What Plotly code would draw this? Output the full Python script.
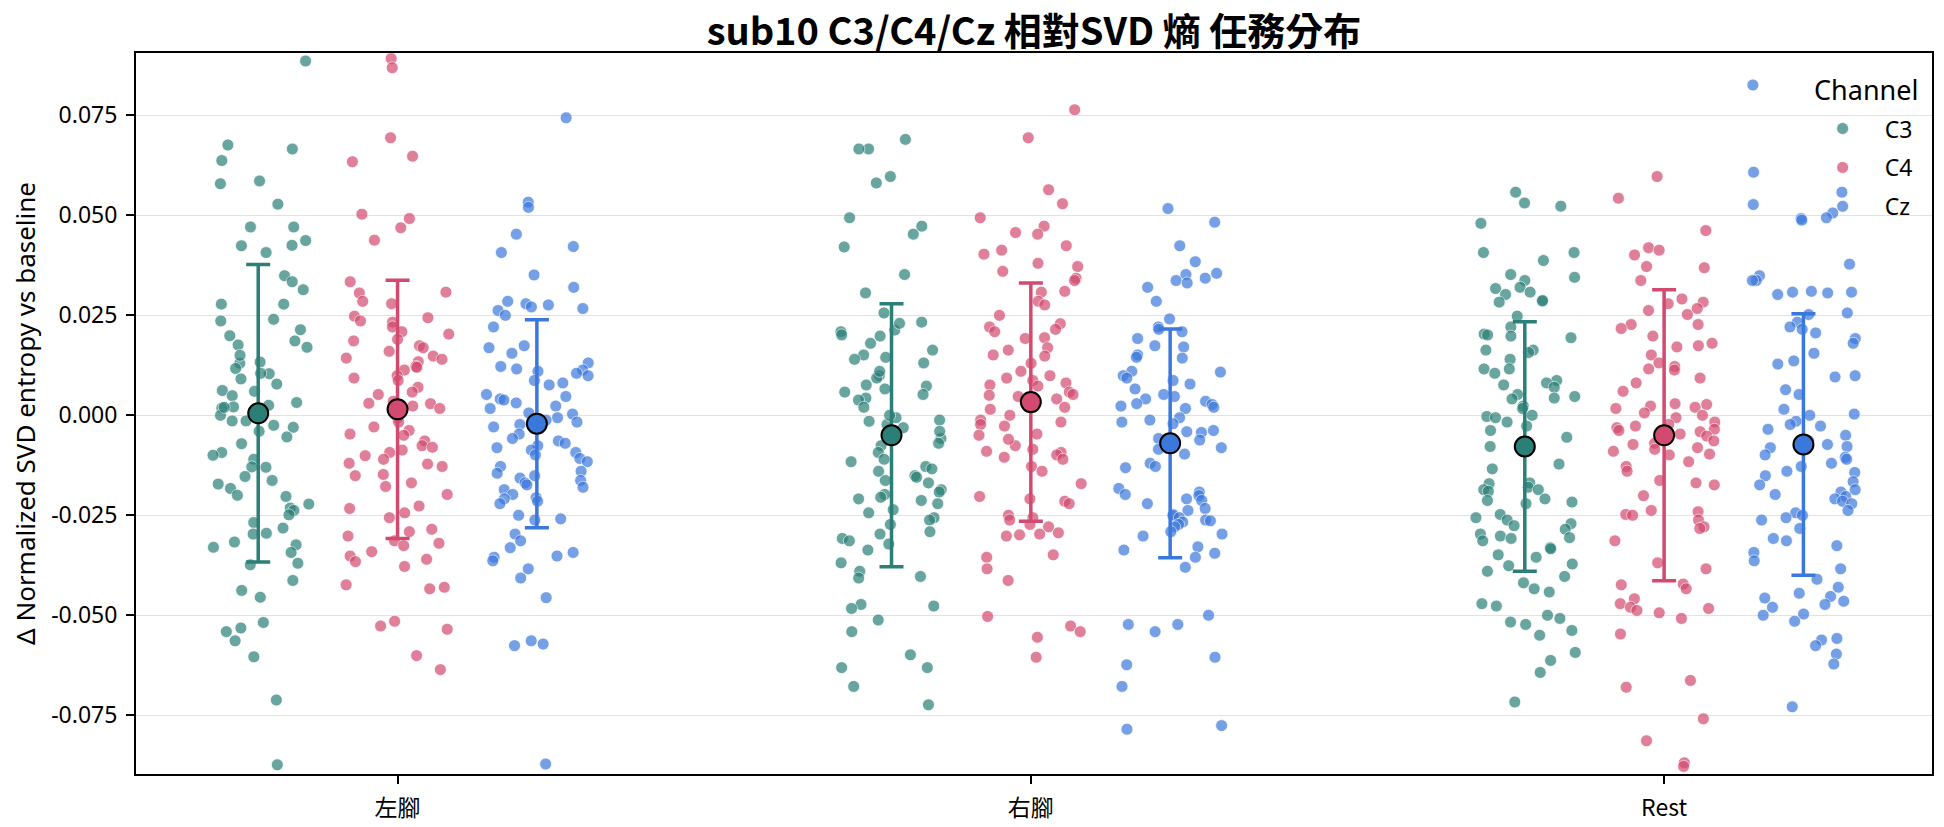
import numpy as np
import plotly.graph_objects as go

categories = ["左腳", "右腳", "Rest"]
channels = ["C3", "C4", "Cz"]

# Δ Normalized SVD entropy values
left_C3 = [0.0886, 0.0676, 0.0666, 0.0637, 0.0586, 0.0579, 0.0528, 0.0471, 0.0471, 0.0437, 0.0425, 0.0424,
           0.0407, 0.0349, 0.0334, 0.0314, 0.0278, 0.0278, 0.0236, 0.0214, 0.0199, 0.0186, 0.0176, 0.0170,
           0.0133, 0.0130, 0.0117, 0.0104, 0.0091, 0.0078, 0.0062, 0.0049, 0.0032, 0.0025, 0.0021, 0.0018,
           0.0000, -0.0014, -0.0014, -0.0025, -0.0030, -0.0054, -0.0071, -0.0093, -0.0110, -0.0129, -0.0130,
           -0.0153, -0.0163, -0.0172, -0.0183, -0.0203, -0.0222, -0.0232, -0.0238, -0.0249, -0.0268, -0.0282,
           -0.0295, -0.0297, -0.0317, -0.0324, -0.0330, -0.0343, -0.0370, -0.0374, -0.0413, -0.0438, -0.0455,
           -0.0518, -0.0541, -0.0532, -0.0564, -0.0604, -0.0712, -0.0874, 0.0105, 0.0060, -0.0040, 0.0150,
           0.0020, -0.0200, 0.0240, -0.0100]
left_C4 = [0.0892, 0.0869, 0.0694, 0.0648, 0.0634, 0.0503, 0.0492, 0.0469, 0.0438, 0.0334, 0.0306, 0.0308,
           0.0279, 0.0285, 0.0248, 0.0244, 0.0236, 0.0233, 0.0221, 0.0209, 0.0203, 0.0190, 0.0186, 0.0174,
           0.0169, 0.0148, 0.0143, 0.0140, 0.0134, 0.0122, 0.0120, 0.0113, 0.0099, 0.0093, 0.0087, 0.0070,
           0.0058, 0.0052, 0.0035, 0.0029, 0.0023, 0.0017, -0.0006, -0.0017, -0.0029, -0.0038, -0.0047,
           -0.0050, -0.0064, -0.0076, -0.0087, -0.0093, -0.0101, -0.0110, -0.0120, -0.0122, -0.0128, -0.0148,
           -0.0151, -0.0169, -0.0178, -0.0198, -0.0227, -0.0233, -0.0244, -0.0256, -0.0285, -0.0291, -0.0302,
           -0.0314, -0.0320, -0.0326, -0.0341, -0.0352, -0.0360, -0.0366, -0.0378, -0.0430, -0.0434, -0.0424,
           -0.0515, -0.0535, -0.0527, -0.0601, -0.0636, 0.0160, 0.0030, -0.0080]
left_Cz = [0.0744, 0.0533, 0.0520, 0.0453, 0.0422, 0.0407, 0.0351, 0.0320, 0.0285, 0.0279, 0.0276, 0.0271,
           0.0267, 0.0262, 0.0250, 0.0221, 0.0174, 0.0169, 0.0155, 0.0131, 0.0122, 0.0116, 0.0113, 0.0110,
           0.0105, 0.0099, 0.0087, 0.0081, 0.0076, 0.0052, 0.0047, 0.0041, 0.0038, 0.0031, 0.0023, 0.0017,
           0.0006, 0.0003, -0.0006, -0.0012, -0.0017, -0.0023, -0.0029, -0.0047, -0.0058, -0.0064, -0.0070,
           -0.0076, -0.0081, -0.0087, -0.0093, -0.0099, -0.0108, -0.0116, -0.0128, -0.0140, -0.0145, -0.0151,
           -0.0157, -0.0163, -0.0169, -0.0174, -0.0180, -0.0186, -0.0198, -0.0206, -0.0209, -0.0215, -0.0221,
           -0.0250, -0.0259, -0.0262, -0.0297, -0.0314, -0.0331, -0.0343, -0.0352, -0.0355, -0.0364, -0.0384,
           -0.0407, -0.0456, -0.0564, -0.0576, -0.0572, -0.0872]
right_C3 = [0.0690, 0.0666, 0.0666, 0.0597, 0.0581, 0.0494, 0.0453, 0.0473, 0.0421, 0.0352, 0.0306, 0.0256,
            0.0233, 0.0213, 0.0209, 0.0201, 0.0198, 0.0163, 0.0151, 0.0145, 0.0140, 0.0131, 0.0099, 0.0093,
            0.0076, 0.0073, 0.0066, 0.0058, 0.0052, 0.0043, 0.0038, 0.0020, -0.0006, -0.0012, -0.0015,
            -0.0023, -0.0031, -0.0058, -0.0070, -0.0076, -0.0093, -0.0110, -0.0116, -0.0128, -0.0134, -0.0140,
            -0.0151, -0.0155, -0.0163, -0.0169, -0.0186, -0.0192, -0.0198, -0.0209, -0.0213, -0.0221, -0.0236,
            -0.0244, -0.0256, -0.0262, -0.0273, -0.0291, -0.0297, -0.0308, -0.0314, -0.0322, -0.0337, -0.0369,
            -0.0390, -0.0403, -0.0407, -0.0473, -0.0477, -0.0483, -0.0512, -0.0541, -0.0599, -0.0631, -0.0631,
            -0.0678, -0.0724, 0.0230, 0.0110, 0.0000, -0.0205, 0.0180, -0.0040]
right_C4 = [0.0764, 0.0694, 0.0564, 0.0529, 0.0494, 0.0473, 0.0457, 0.0453, 0.0424, 0.0413, 0.0403, 0.0380,
            0.0372, 0.0360, 0.0343, 0.0337, 0.0310, 0.0308, 0.0285, 0.0276, 0.0229, 0.0221, 0.0215, 0.0209,
            0.0194, 0.0192, 0.0169, 0.0163, 0.0151, 0.0148, 0.0110, 0.0099, 0.0093, 0.0087, 0.0081, 0.0076,
            0.0073, 0.0058, 0.0052, 0.0050, 0.0047, 0.0041, 0.0029, 0.0020, 0.0015, 0.0000, -0.0012, -0.0017,
            -0.0023, -0.0027, -0.0047, -0.0050, -0.0076, -0.0085, -0.0090, -0.0093, -0.0099, -0.0105, -0.0110,
            -0.0128, -0.0140, -0.0171, -0.0203, -0.0209, -0.0215, -0.0221, -0.0250, -0.0256, -0.0262, -0.0273,
            -0.0279, -0.0294, -0.0297, -0.0299, -0.0302, -0.0349, -0.0355, -0.0384, -0.0413, -0.0503, -0.0527,
            -0.0541, -0.0555, -0.0605, 0.0130, 0.0250, -0.0060]
right_Cz = [0.0517, 0.0483, 0.0424, 0.0384, 0.0355, 0.0352, 0.0343, 0.0337, 0.0331, 0.0320, 0.0285, 0.0241,
            0.0221, 0.0215, 0.0209, 0.0192, 0.0174, 0.0171, 0.0151, 0.0145, 0.0143, 0.0110, 0.0108, 0.0099,
            0.0093, 0.0087, 0.0078, 0.0066, 0.0052, 0.0047, 0.0041, 0.0035, 0.0029, 0.0027, 0.0023, 0.0020,
            0.0017, -0.0006, -0.0012, -0.0017, -0.0021, -0.0038, -0.0041, -0.0043, -0.0058, -0.0062, -0.0081,
            -0.0085, -0.0097, -0.0120, -0.0128, -0.0131, -0.0183, -0.0192, -0.0198, -0.0201, -0.0209, -0.0213,
            -0.0221, -0.0233, -0.0238, -0.0248, -0.0250, -0.0256, -0.0262, -0.0264, -0.0267, -0.0273, -0.0279,
            -0.0291, -0.0297, -0.0302, -0.0329, -0.0337, -0.0345, -0.0355, -0.0380, -0.0500, -0.0523, -0.0523,
            -0.0541, -0.0605, -0.0624, -0.0678, -0.0776, -0.0785]
rest_C3 = [0.0558, 0.0531, 0.0523, 0.0480, 0.0407, 0.0407, 0.0387, 0.0352, 0.0345, 0.0337, 0.0320, 0.0317,
           0.0308, 0.0302, 0.0285, 0.0283, 0.0287, 0.0248, 0.0221, 0.0203, 0.0201, 0.0198, 0.0194, 0.0163,
           0.0163, 0.0157, 0.0140, 0.0116, 0.0116, 0.0105, 0.0087, 0.0081, 0.0076, 0.0070, 0.0052, 0.0047,
           0.0043, 0.0041, 0.0023, 0.0017, 0.0000, -0.0003, -0.0006, -0.0017, -0.0027, -0.0038, -0.0055,
           -0.0078, -0.0122, -0.0134, -0.0169, -0.0171, -0.0180, -0.0186, -0.0186, -0.0190, -0.0209, -0.0213,
           -0.0217, -0.0221, -0.0248, -0.0256, -0.0262, -0.0271, -0.0276, -0.0285, -0.0297, -0.0302, -0.0306,
           -0.0308, -0.0314, -0.0331, -0.0334, -0.0349, -0.0355, -0.0372, -0.0376, -0.0390, -0.0403, -0.0419,
           -0.0434, -0.0442, -0.0471, -0.0477, -0.0500, -0.0508, -0.0517, -0.0523, -0.0538, -0.0550, -0.0593,
           -0.0613, -0.0643, -0.0717]
rest_C4 = [0.0597, 0.0543, 0.0462, 0.0419, 0.0413, 0.0401, 0.0372, 0.0369, 0.0337, 0.0291, 0.0283, 0.0279,
           0.0267, 0.0262, 0.0252, 0.0227, 0.0227, 0.0217, 0.0198, 0.0180, 0.0174, 0.0171, 0.0151, 0.0131,
           0.0122, 0.0116, 0.0113, 0.0093, 0.0081, 0.0029, 0.0027, 0.0023, 0.0020, 0.0017, 0.0006, 0.0000,
           -0.0006, -0.0017, -0.0023, -0.0027, -0.0031, -0.0035, -0.0038, -0.0041, -0.0047, -0.0052, -0.0064,
           -0.0070, -0.0073, -0.0081, -0.0085, -0.0090, -0.0097, -0.0099, -0.0116, -0.0128, -0.0163, -0.0169,
           -0.0174, -0.0201, -0.0238, -0.0241, -0.0248, -0.0250, -0.0262, -0.0279, -0.0283, -0.0314, -0.0369,
           -0.0384, -0.0422, -0.0424, -0.0434, -0.0459, -0.0471, -0.0480, -0.0483, -0.0488, -0.0494, -0.0508,
           -0.0547, -0.0663, -0.0680, -0.0759, -0.0814, -0.0869, -0.0878, 0.0060, -0.0140]
rest_Cz = [0.0826, 0.0608, 0.0558, 0.0527, 0.0506, 0.0494, 0.0492, 0.0488, 0.0378, 0.0349, 0.0337, 0.0337,
           0.0310, 0.0308, 0.0308, 0.0306, 0.0302, 0.0256, 0.0252, 0.0233, 0.0221, 0.0215, 0.0206, 0.0192,
           0.0180, 0.0155, 0.0136, 0.0128, 0.0099, 0.0096, 0.0064, 0.0052, 0.0015, 0.0003, 0.0000, -0.0015,
           -0.0023, -0.0027, -0.0035, -0.0050, -0.0064, -0.0066, -0.0073, -0.0078, -0.0081, -0.0099, -0.0105,
           -0.0110, -0.0120, -0.0128, -0.0140, -0.0143, -0.0151, -0.0166, -0.0174, -0.0186, -0.0192, -0.0198,
           -0.0203, -0.0209, -0.0215, -0.0221, -0.0238, -0.0244, -0.0250, -0.0256, -0.0262, -0.0283, -0.0308,
           -0.0314, -0.0326, -0.0343, -0.0364, -0.0384, -0.0410, -0.0430, -0.0445, -0.0453, -0.0457, -0.0465,
           -0.0473, -0.0480, -0.0497, -0.0500, -0.0515, -0.0558, -0.0562, -0.0576, -0.0597, -0.0622, -0.0729]

# group means and standard deviations
means_C3 = [0.0005, -0.0050, -0.0078]
means_C4 = [0.0015, 0.0033, -0.0050]
means_Cz = [-0.0021, -0.0070, -0.0073]
sd_C3 = [0.0372, 0.0329, 0.0312]
sd_C4 = [0.0323, 0.0298, 0.0364]
sd_Cz = [0.0260, 0.0286, 0.0327]

y_tick_vals = [-0.075, -0.05, -0.025, 0.0, 0.025, 0.05, 0.075]
y_tick_text = ["-0.075", "-0.050", "-0.025", "0.000", "0.025", "0.050", "0.075"]

data = {
    "C3": [left_C3, right_C3, rest_C3],
    "C4": [left_C4, right_C4, rest_C4],
    "Cz": [left_Cz, right_Cz, rest_Cz],
}
means = {"C3": means_C3, "C4": means_C4, "Cz": means_Cz}
sds = {"C3": sd_C3, "C4": sd_C4, "Cz": sd_Cz}

colors = {"C3": "#2b7f77", "C4": "#d24a6f", "Cz": "#3b78dc"}
dodge = {"C3": -0.22, "C4": 0.0, "Cz": 0.22}
FONT = "Noto Sans, Noto Sans CJK TC, sans-serif"
CJK = "Noto Sans CJK TC, Noto Sans, sans-serif"

rng = np.random.default_rng(10)
fig = go.Figure()

for ch in channels:
    xs, ys = [], []
    for ci, vals in enumerate(data[ch]):
        jit = rng.uniform(-0.082, 0.082, len(vals))
        xs.extend(list(ci + dodge[ch] + jit))
        ys.extend(vals)
    fig.add_trace(go.Scatter(
        x=xs, y=ys, mode="markers", name=ch, legendgroup=ch,
        marker=dict(size=12, color=colors[ch], opacity=0.7,
                    line=dict(color="white", width=0.8)),
        showlegend=True,
    ))

for ch in channels:
    fig.add_trace(go.Scatter(
        x=[ci + dodge[ch] for ci in range(len(categories))], y=means[ch],
        mode="markers", showlegend=False, legendgroup=ch,
        marker=dict(size=20, color=colors[ch], line=dict(color="black", width=2)),
        error_y=dict(type="data", array=sds[ch], visible=True, color=colors[ch],
                     thickness=3.5, width=12),
    ))

fig.update_layout(
    width=1944, height=827,
    paper_bgcolor="white", plot_bgcolor="white",
    margin=dict(l=136, r=12, t=53, b=53, autoexpand=False),
    title=dict(text="<b>sub10 C3/C4/Cz 相對SVD 熵 任務分布</b>", x=0.5, xref="paper", xanchor="center",
               y=0.962, yanchor="middle",
               font=dict(family=CJK, size=38, color="black")),
    font=dict(family=FONT, size=20, color="black"),
    legend=dict(
        x=0.992, xanchor="right", y=0.925, yanchor="top",
        bgcolor="rgba(255,255,255,0)", borderwidth=0,
        font=dict(size=23), tracegroupgap=6, itemwidth=74,
    ),
    annotations=[dict(text="Channel", xref="paper", yref="paper", x=0.9935, y=0.95,
                      xanchor="right", yanchor="middle", showarrow=False,
                      font=dict(size=27, family=FONT, color="black"))],
    showlegend=True,
)

fig.update_xaxes(
    range=[-0.413, 2.423], tickmode="array", tickvals=[0, 1, 2], ticktext=categories,
    showgrid=False, zeroline=False, showline=True, linecolor="black", linewidth=2, mirror=True,
    ticks="outside", ticklen=8, tickwidth=1.5, tickcolor="black", ticklabelstandoff=4,
    tickfont=dict(size=23, family=CJK), automargin=False,
)
fig.update_yaxes(
    range=[-0.0897, 0.0906], tickmode="array", tickvals=y_tick_vals, ticktext=y_tick_text,
    showgrid=True, gridcolor="#d9e4ef", gridwidth=1.2, zeroline=False,
    showline=True, linecolor="black", linewidth=2, mirror=True,
    ticks="outside", ticklen=8, tickwidth=1.5, tickcolor="black", ticklabelstandoff=4,
    tickfont=dict(size=23), automargin=False,
    title=dict(text="Δ Normalized SVD entropy vs baseline", font=dict(size=26), standoff=8),
)

fig.write_html("out.html")
